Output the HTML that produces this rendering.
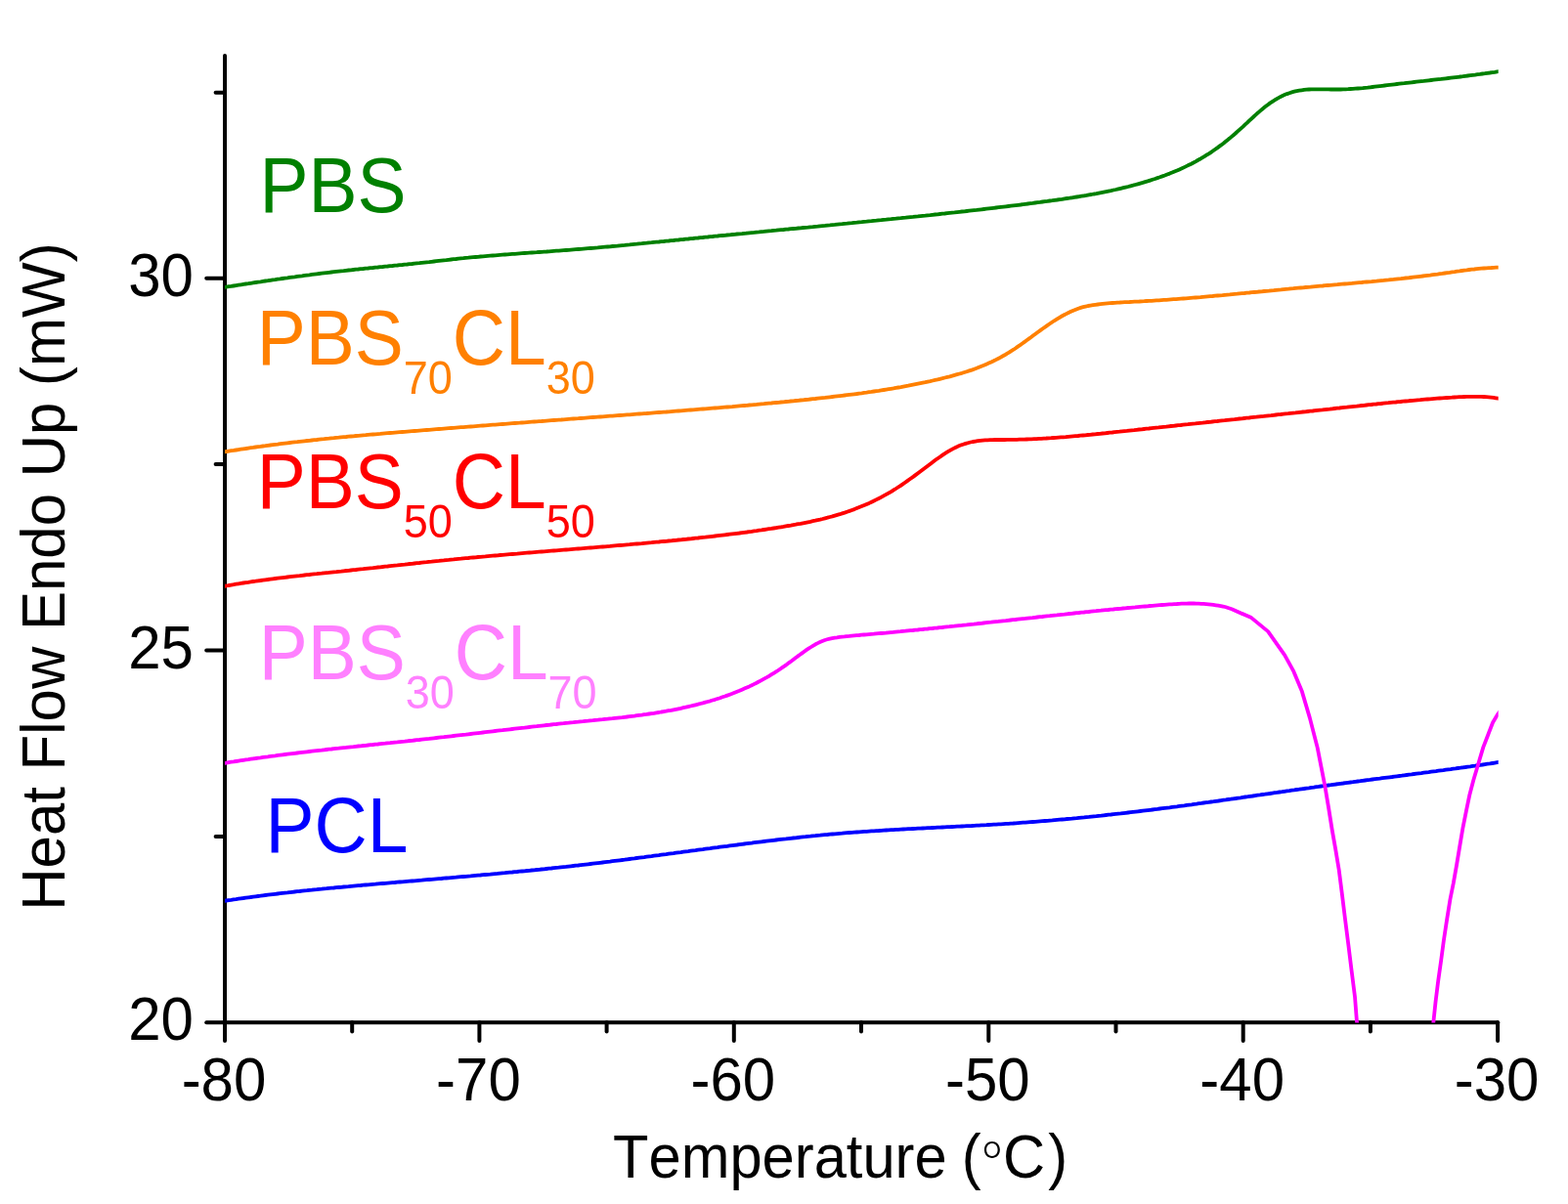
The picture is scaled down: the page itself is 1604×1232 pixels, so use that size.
<!DOCTYPE html>
<html><head><meta charset="utf-8"><title>DSC heat flow</title>
<style>
html,body{margin:0;padding:0;background:#fff;}
svg{display:block;}
text{font-family:"Liberation Sans",Arial,sans-serif;font-kerning:none;}
</style></head><body>
<svg width="1604" height="1232" viewBox="0 0 1604 1232">
<defs><clipPath id="plot"><rect x="230" y="40" width="1302.7" height="1006.6"/></clipPath></defs>
<rect width="1604" height="1232" fill="#fff"/>
<g stroke="#000" stroke-width="4" stroke-linecap="round" fill="none">
<line x1="230.0" y1="57.0" x2="230.0" y2="1046.2"/>
<line x1="230.0" y1="1046.2" x2="1532.1" y2="1046.2"/>
<line x1="230.0" y1="1046.2" x2="230.0" y2="1065.0"/>
<line x1="360.2" y1="1046.2" x2="360.2" y2="1055.6"/>
<line x1="490.4" y1="1046.2" x2="490.4" y2="1065.0"/>
<line x1="620.6" y1="1046.2" x2="620.6" y2="1055.6"/>
<line x1="750.8" y1="1046.2" x2="750.8" y2="1065.0"/>
<line x1="881.0" y1="1046.2" x2="881.0" y2="1055.6"/>
<line x1="1011.3" y1="1046.2" x2="1011.3" y2="1065.0"/>
<line x1="1141.5" y1="1046.2" x2="1141.5" y2="1055.6"/>
<line x1="1271.7" y1="1046.2" x2="1271.7" y2="1065.0"/>
<line x1="1401.9" y1="1046.2" x2="1401.9" y2="1055.6"/>
<line x1="1532.1" y1="1046.2" x2="1532.1" y2="1065.0"/>
<line x1="230.0" y1="1046.2" x2="211.2" y2="1046.2"/>
<line x1="230.0" y1="855.9" x2="220.6" y2="855.9"/>
<line x1="230.0" y1="665.5" x2="211.2" y2="665.5"/>
<line x1="230.0" y1="475.1" x2="220.6" y2="475.1"/>
<line x1="230.0" y1="284.8" x2="211.2" y2="284.8"/>
<line x1="230.0" y1="94.8" x2="220.6" y2="94.8"/>
</g>
<g clip-path="url(#plot)" fill="none" stroke-width="3.8" stroke-linejoin="round">
<path d="M229.0,921.9 L231.5,921.5 L234.0,921.1 L236.5,920.8 L239.0,920.4 L241.5,920.1 L244.0,919.7 L246.5,919.3 L249.0,919.0 L251.5,918.6 L254.0,918.3 L256.5,918.0 L259.0,917.6 L261.5,917.3 L264.0,917.0 L266.5,916.7 L269.0,916.3 L271.5,916.0 L274.0,915.7 L276.5,915.4 L279.0,915.1 L281.5,914.8 L284.0,914.5 L286.5,914.2 L289.0,913.9 L291.5,913.6 L294.0,913.4 L296.5,913.1 L299.0,912.8 L301.5,912.5 L304.0,912.2 L306.5,912.0 L309.0,911.7 L311.5,911.4 L314.0,911.2 L316.5,910.9 L319.0,910.7 L321.5,910.4 L324.0,910.2 L326.5,909.9 L329.0,909.7 L331.5,909.4 L334.0,909.2 L336.5,908.9 L339.0,908.7 L341.5,908.5 L344.0,908.2 L346.5,908.0 L349.0,907.8 L351.5,907.5 L354.0,907.3 L356.5,907.1 L359.0,906.8 L361.5,906.6 L364.0,906.4 L366.5,906.2 L369.0,906.0 L371.5,905.7 L374.0,905.5 L376.5,905.3 L379.0,905.1 L381.5,904.9 L384.0,904.7 L386.5,904.4 L389.0,904.2 L391.5,904.0 L394.0,903.8 L396.5,903.6 L399.0,903.4 L401.5,903.2 L404.0,903.0 L406.5,902.7 L409.0,902.5 L411.5,902.3 L414.0,902.1 L416.5,901.9 L419.0,901.7 L421.5,901.5 L424.0,901.3 L426.5,901.1 L429.0,900.9 L431.5,900.7 L434.0,900.4 L436.5,900.2 L439.0,900.0 L441.5,899.8 L444.0,899.6 L446.5,899.4 L449.0,899.2 L451.5,899.0 L454.0,898.7 L456.5,898.5 L459.0,898.3 L461.5,898.1 L464.0,897.9 L466.5,897.7 L469.0,897.4 L471.5,897.2 L474.0,897.0 L476.5,896.8 L479.0,896.6 L481.5,896.4 L484.0,896.1 L486.5,895.9 L489.0,895.7 L491.5,895.5 L494.0,895.2 L496.5,895.0 L499.0,894.8 L501.5,894.6 L504.0,894.3 L506.5,894.1 L509.0,893.9 L511.5,893.6 L514.0,893.4 L516.5,893.2 L519.0,892.9 L521.5,892.7 L524.0,892.5 L526.5,892.2 L529.0,892.0 L531.5,891.7 L534.0,891.5 L536.5,891.3 L539.0,891.0 L541.5,890.8 L544.0,890.5 L546.5,890.3 L549.0,890.0 L551.5,889.8 L554.0,889.5 L556.5,889.3 L559.0,889.0 L561.5,888.7 L564.0,888.5 L566.5,888.2 L569.0,887.9 L571.5,887.7 L574.0,887.4 L576.5,887.1 L579.0,886.9 L581.5,886.6 L584.0,886.3 L586.5,886.0 L589.0,885.7 L591.5,885.5 L594.0,885.2 L596.5,884.9 L599.0,884.6 L601.5,884.3 L604.0,884.0 L606.5,883.7 L609.0,883.4 L611.5,883.1 L614.0,882.8 L616.5,882.5 L619.0,882.2 L621.5,881.9 L624.0,881.6 L626.5,881.2 L629.0,880.9 L631.5,880.6 L634.0,880.3 L636.5,880.0 L639.0,879.7 L641.5,879.3 L644.0,879.0 L646.5,878.7 L649.0,878.4 L651.5,878.0 L654.0,877.7 L656.5,877.4 L659.0,877.1 L661.5,876.7 L664.0,876.4 L666.5,876.1 L669.0,875.7 L671.5,875.4 L674.0,875.1 L676.5,874.7 L679.0,874.4 L681.5,874.1 L684.0,873.7 L686.5,873.4 L689.0,873.1 L691.5,872.7 L694.0,872.4 L696.5,872.1 L699.0,871.7 L701.5,871.4 L704.0,871.1 L706.5,870.7 L709.0,870.4 L711.5,870.1 L714.0,869.7 L716.5,869.4 L719.0,869.1 L721.5,868.7 L724.0,868.4 L726.5,868.1 L729.0,867.7 L731.5,867.4 L734.0,867.1 L736.5,866.7 L739.0,866.4 L741.5,866.1 L744.0,865.8 L746.5,865.4 L749.0,865.1 L751.5,864.8 L754.0,864.5 L756.5,864.1 L759.0,863.8 L761.5,863.5 L764.0,863.2 L766.5,862.9 L769.0,862.6 L771.5,862.2 L774.0,861.9 L776.5,861.6 L779.0,861.3 L781.5,861.0 L784.0,860.7 L786.5,860.4 L789.0,860.1 L791.5,859.8 L794.0,859.5 L796.5,859.2 L799.0,858.9 L801.5,858.6 L804.0,858.4 L806.5,858.1 L809.0,857.8 L811.5,857.5 L814.0,857.3 L816.5,857.0 L819.0,856.7 L821.5,856.4 L824.0,856.2 L826.5,855.9 L829.0,855.7 L831.5,855.4 L834.0,855.2 L836.5,854.9 L839.0,854.7 L841.5,854.4 L844.0,854.2 L846.5,854.0 L849.0,853.7 L851.5,853.5 L854.0,853.3 L856.5,853.1 L859.0,852.9 L861.5,852.7 L864.0,852.4 L866.5,852.2 L869.0,852.0 L871.5,851.9 L874.0,851.7 L876.5,851.5 L879.0,851.3 L881.5,851.1 L884.0,850.9 L886.5,850.8 L889.0,850.6 L891.5,850.4 L894.0,850.3 L896.5,850.1 L899.0,850.0 L901.5,849.8 L904.0,849.6 L906.5,849.5 L909.0,849.4 L911.5,849.2 L914.0,849.1 L916.5,848.9 L919.0,848.8 L921.5,848.6 L924.0,848.5 L926.5,848.4 L929.0,848.2 L931.5,848.1 L934.0,848.0 L936.5,847.9 L939.0,847.7 L941.5,847.6 L944.0,847.5 L946.5,847.4 L949.0,847.2 L951.5,847.1 L954.0,847.0 L956.5,846.9 L959.0,846.7 L961.5,846.6 L964.0,846.5 L966.5,846.4 L969.0,846.2 L971.5,846.1 L974.0,846.0 L976.5,845.9 L979.0,845.7 L981.5,845.6 L984.0,845.5 L986.5,845.4 L989.0,845.2 L991.5,845.1 L994.0,845.0 L996.5,844.8 L999.0,844.7 L1001.5,844.6 L1004.0,844.4 L1006.5,844.3 L1009.0,844.2 L1011.5,844.0 L1014.0,843.9 L1016.5,843.7 L1019.0,843.6 L1021.5,843.4 L1024.0,843.3 L1026.5,843.1 L1029.0,842.9 L1031.5,842.8 L1034.0,842.6 L1036.5,842.5 L1039.0,842.3 L1041.5,842.1 L1044.0,841.9 L1046.5,841.7 L1049.0,841.6 L1051.5,841.4 L1054.0,841.2 L1056.5,841.0 L1059.0,840.8 L1061.5,840.6 L1064.0,840.4 L1066.5,840.2 L1069.0,840.0 L1071.5,839.8 L1074.0,839.6 L1076.5,839.4 L1079.0,839.1 L1081.5,838.9 L1084.0,838.7 L1086.5,838.5 L1089.0,838.3 L1091.5,838.0 L1094.0,837.8 L1096.5,837.6 L1099.0,837.3 L1101.5,837.1 L1104.0,836.8 L1106.5,836.6 L1109.0,836.4 L1111.5,836.1 L1114.0,835.9 L1116.5,835.6 L1119.0,835.3 L1121.5,835.1 L1124.0,834.8 L1126.5,834.6 L1129.0,834.3 L1131.5,834.0 L1134.0,833.7 L1136.5,833.5 L1139.0,833.2 L1141.5,832.9 L1144.0,832.6 L1146.5,832.4 L1149.0,832.1 L1151.5,831.8 L1154.0,831.5 L1156.5,831.2 L1159.0,830.9 L1161.5,830.6 L1164.0,830.3 L1166.5,830.0 L1169.0,829.7 L1171.5,829.4 L1174.0,829.1 L1176.5,828.8 L1179.0,828.5 L1181.5,828.2 L1184.0,827.9 L1186.5,827.5 L1189.0,827.2 L1191.5,826.9 L1194.0,826.6 L1196.5,826.3 L1199.0,825.9 L1201.5,825.6 L1204.0,825.3 L1206.5,824.9 L1209.0,824.6 L1211.5,824.3 L1214.0,823.9 L1216.5,823.6 L1219.0,823.3 L1221.5,822.9 L1224.0,822.6 L1226.5,822.2 L1229.0,821.9 L1231.5,821.5 L1234.0,821.2 L1236.5,820.9 L1239.0,820.5 L1241.5,820.2 L1244.0,819.8 L1246.5,819.5 L1249.0,819.1 L1251.5,818.7 L1254.0,818.4 L1256.5,818.0 L1259.0,817.7 L1261.5,817.3 L1264.0,817.0 L1266.5,816.6 L1269.0,816.3 L1271.5,815.9 L1274.0,815.5 L1276.5,815.2 L1279.0,814.8 L1281.5,814.5 L1284.0,814.1 L1286.5,813.7 L1289.0,813.4 L1291.5,813.0 L1294.0,812.7 L1296.5,812.3 L1299.0,812.0 L1301.5,811.6 L1304.0,811.2 L1306.5,810.9 L1309.0,810.5 L1311.5,810.2 L1314.0,809.8 L1316.5,809.4 L1319.0,809.1 L1321.5,808.7 L1324.0,808.4 L1326.5,808.0 L1329.0,807.7 L1331.5,807.3 L1334.0,807.0 L1336.5,806.6 L1339.0,806.3 L1341.5,805.9 L1344.0,805.6 L1346.5,805.2 L1349.0,804.9 L1351.5,804.5 L1354.0,804.2 L1356.5,803.8 L1359.0,803.5 L1361.5,803.2 L1364.0,802.8 L1366.5,802.5 L1369.0,802.1 L1371.5,801.8 L1374.0,801.5 L1376.5,801.1 L1379.0,800.8 L1381.5,800.5 L1384.0,800.2 L1386.5,799.8 L1389.0,799.5 L1391.5,799.2 L1394.0,798.8 L1396.5,798.5 L1399.0,798.2 L1401.5,797.9 L1404.0,797.5 L1406.5,797.2 L1409.0,796.9 L1411.5,796.6 L1414.0,796.2 L1416.5,795.9 L1419.0,795.6 L1421.5,795.3 L1424.0,795.0 L1426.5,794.6 L1429.0,794.3 L1431.5,794.0 L1434.0,793.7 L1436.5,793.3 L1439.0,793.0 L1441.5,792.7 L1444.0,792.4 L1446.5,792.0 L1449.0,791.7 L1451.5,791.4 L1454.0,791.1 L1456.5,790.7 L1459.0,790.4 L1461.5,790.1 L1464.0,789.7 L1466.5,789.4 L1469.0,789.1 L1471.5,788.7 L1474.0,788.4 L1476.5,788.1 L1479.0,787.7 L1481.5,787.4 L1484.0,787.1 L1486.5,786.7 L1489.0,786.4 L1491.5,786.0 L1494.0,785.7 L1496.5,785.3 L1499.0,785.0 L1501.5,784.6 L1504.0,784.3 L1506.5,783.9 L1509.0,783.6 L1511.5,783.2 L1514.0,782.8 L1516.5,782.5 L1519.0,782.1 L1521.5,781.7 L1524.0,781.4 L1526.5,781.0 L1529.0,780.6 L1531.5,780.2 L1534.0,779.9" stroke="#0000FF"/>
<path d="M229.0,294.0 L231.5,293.6 L234.0,293.2 L236.5,292.9 L239.0,292.5 L241.5,292.1 L244.0,291.7 L246.5,291.3 L249.0,290.9 L251.5,290.5 L254.0,290.2 L256.5,289.8 L259.0,289.4 L261.5,289.0 L264.0,288.6 L266.5,288.3 L269.0,287.9 L271.5,287.5 L274.0,287.2 L276.5,286.8 L279.0,286.4 L281.5,286.1 L284.0,285.7 L286.5,285.4 L289.0,285.0 L291.5,284.6 L294.0,284.3 L296.5,283.9 L299.0,283.6 L301.5,283.3 L304.0,282.9 L306.5,282.6 L309.0,282.3 L311.5,281.9 L314.0,281.6 L316.5,281.3 L319.0,280.9 L321.5,280.6 L324.0,280.3 L326.5,280.0 L329.0,279.7 L331.5,279.4 L334.0,279.1 L336.5,278.8 L339.0,278.5 L341.5,278.2 L344.0,277.9 L346.5,277.6 L349.0,277.3 L351.5,277.1 L354.0,276.8 L356.5,276.5 L359.0,276.3 L361.5,276.0 L364.0,275.7 L366.5,275.5 L369.0,275.2 L371.5,275.0 L374.0,274.7 L376.5,274.5 L379.0,274.2 L381.5,274.0 L384.0,273.7 L386.5,273.5 L389.0,273.2 L391.5,273.0 L394.0,272.7 L396.5,272.5 L399.0,272.2 L401.5,272.0 L404.0,271.7 L406.5,271.5 L409.0,271.2 L411.5,271.0 L414.0,270.7 L416.5,270.5 L419.0,270.2 L421.5,270.0 L424.0,269.7 L426.5,269.4 L429.0,269.2 L431.5,268.9 L434.0,268.6 L436.5,268.3 L439.0,268.1 L441.5,267.8 L444.0,267.5 L446.5,267.2 L449.0,266.9 L451.5,266.6 L454.0,266.3 L456.5,266.1 L459.0,265.8 L461.5,265.5 L464.0,265.2 L466.5,265.0 L469.0,264.7 L471.5,264.4 L474.0,264.2 L476.5,263.9 L479.0,263.7 L481.5,263.4 L484.0,263.2 L486.5,263.0 L489.0,262.8 L491.5,262.5 L494.0,262.3 L496.5,262.1 L499.0,261.9 L501.5,261.7 L504.0,261.5 L506.5,261.3 L509.0,261.1 L511.5,260.9 L514.0,260.7 L516.5,260.5 L519.0,260.3 L521.5,260.1 L524.0,259.9 L526.5,259.8 L529.0,259.6 L531.5,259.4 L534.0,259.2 L536.5,259.0 L539.0,258.9 L541.5,258.7 L544.0,258.5 L546.5,258.3 L549.0,258.2 L551.5,258.0 L554.0,257.8 L556.5,257.6 L559.0,257.5 L561.5,257.3 L564.0,257.1 L566.5,256.9 L569.0,256.7 L571.5,256.6 L574.0,256.4 L576.5,256.2 L579.0,256.0 L581.5,255.8 L584.0,255.6 L586.5,255.4 L589.0,255.2 L591.5,255.0 L594.0,254.8 L596.5,254.6 L599.0,254.4 L601.5,254.2 L604.0,254.0 L606.5,253.8 L609.0,253.6 L611.5,253.4 L614.0,253.1 L616.5,252.9 L619.0,252.7 L621.5,252.5 L624.0,252.3 L626.5,252.0 L629.0,251.8 L631.5,251.6 L634.0,251.3 L636.5,251.1 L639.0,250.9 L641.5,250.6 L644.0,250.4 L646.5,250.1 L649.0,249.9 L651.5,249.7 L654.0,249.4 L656.5,249.2 L659.0,248.9 L661.5,248.7 L664.0,248.4 L666.5,248.2 L669.0,247.9 L671.5,247.7 L674.0,247.5 L676.5,247.2 L679.0,247.0 L681.5,246.7 L684.0,246.5 L686.5,246.2 L689.0,246.0 L691.5,245.7 L694.0,245.5 L696.5,245.2 L699.0,245.0 L701.5,244.7 L704.0,244.5 L706.5,244.2 L709.0,244.0 L711.5,243.7 L714.0,243.5 L716.5,243.2 L719.0,243.0 L721.5,242.7 L724.0,242.5 L726.5,242.2 L729.0,242.0 L731.5,241.7 L734.0,241.5 L736.5,241.2 L739.0,241.0 L741.5,240.8 L744.0,240.5 L746.5,240.3 L749.0,240.0 L751.5,239.8 L754.0,239.5 L756.5,239.3 L759.0,239.1 L761.5,238.8 L764.0,238.6 L766.5,238.3 L769.0,238.1 L771.5,237.9 L774.0,237.6 L776.5,237.4 L779.0,237.1 L781.5,236.9 L784.0,236.6 L786.5,236.4 L789.0,236.2 L791.5,235.9 L794.0,235.7 L796.5,235.4 L799.0,235.2 L801.5,235.0 L804.0,234.7 L806.5,234.5 L809.0,234.2 L811.5,234.0 L814.0,233.8 L816.5,233.5 L819.0,233.3 L821.5,233.0 L824.0,232.8 L826.5,232.6 L829.0,232.3 L831.5,232.1 L834.0,231.8 L836.5,231.6 L839.0,231.3 L841.5,231.1 L844.0,230.9 L846.5,230.6 L849.0,230.4 L851.5,230.1 L854.0,229.9 L856.5,229.6 L859.0,229.4 L861.5,229.2 L864.0,228.9 L866.5,228.7 L869.0,228.4 L871.5,228.2 L874.0,227.9 L876.5,227.7 L879.0,227.4 L881.5,227.2 L884.0,226.9 L886.5,226.7 L889.0,226.4 L891.5,226.2 L894.0,225.9 L896.5,225.7 L899.0,225.4 L901.5,225.2 L904.0,224.9 L906.5,224.7 L909.0,224.4 L911.5,224.2 L914.0,223.9 L916.5,223.7 L919.0,223.4 L921.5,223.2 L924.0,222.9 L926.5,222.7 L929.0,222.4 L931.5,222.1 L934.0,221.9 L936.5,221.6 L939.0,221.4 L941.5,221.1 L944.0,220.8 L946.5,220.6 L949.0,220.3 L951.5,220.1 L954.0,219.8 L956.5,219.5 L959.0,219.3 L961.5,219.0 L964.0,218.7 L966.5,218.5 L969.0,218.2 L971.5,217.9 L974.0,217.6 L976.5,217.4 L979.0,217.1 L981.5,216.8 L984.0,216.5 L986.5,216.3 L989.0,216.0 L991.5,215.7 L994.0,215.4 L996.5,215.1 L999.0,214.9 L1001.5,214.6 L1004.0,214.3 L1006.5,214.0 L1009.0,213.7 L1011.5,213.4 L1014.0,213.1 L1016.5,212.8 L1019.0,212.5 L1021.5,212.2 L1024.0,211.9 L1026.5,211.6 L1029.0,211.3 L1031.5,211.0 L1034.0,210.7 L1036.5,210.4 L1039.0,210.1 L1041.5,209.8 L1044.0,209.5 L1046.5,209.1 L1049.0,208.8 L1051.5,208.5 L1054.0,208.2 L1056.5,207.9 L1059.0,207.5 L1061.5,207.2 L1064.0,206.9 L1066.5,206.5 L1069.0,206.2 L1071.5,205.9 L1074.0,205.5 L1076.5,205.2 L1079.0,204.8 L1081.5,204.5 L1084.0,204.1 L1086.5,203.8 L1089.0,203.4 L1091.5,203.0 L1094.0,202.7 L1096.5,202.3 L1099.0,201.9 L1101.5,201.5 L1104.0,201.1 L1106.5,200.7 L1109.0,200.3 L1111.5,199.9 L1114.0,199.4 L1116.5,199.0 L1119.0,198.5 L1121.5,198.1 L1124.0,197.6 L1126.5,197.1 L1129.0,196.6 L1131.5,196.1 L1134.0,195.6 L1136.5,195.1 L1139.0,194.5 L1141.5,194.0 L1144.0,193.4 L1146.5,192.8 L1149.0,192.2 L1151.5,191.6 L1154.0,191.0 L1156.5,190.3 L1159.0,189.7 L1161.5,189.0 L1164.0,188.3 L1166.5,187.6 L1169.0,186.9 L1171.5,186.1 L1174.0,185.4 L1176.5,184.6 L1179.0,183.8 L1181.5,183.0 L1184.0,182.1 L1186.5,181.3 L1189.0,180.4 L1191.5,179.5 L1194.0,178.5 L1196.5,177.6 L1199.0,176.6 L1201.5,175.5 L1204.0,174.5 L1206.5,173.4 L1209.0,172.3 L1211.5,171.1 L1214.0,169.9 L1216.2,168.8 L1218.5,167.7 L1220.8,166.5 L1223.0,165.3 L1225.2,164.0 L1227.5,162.8 L1229.8,161.4 L1232.0,160.1 L1234.2,158.7 L1236.5,157.3 L1238.8,155.8 L1241.0,154.3 L1243.2,152.7 L1245.5,151.1 L1247.8,149.4 L1249.8,147.9 L1251.8,146.4 L1253.8,144.8 L1255.8,143.2 L1257.8,141.6 L1259.8,139.9 L1261.8,138.2 L1263.8,136.5 L1265.8,134.7 L1267.8,132.9 L1269.8,131.1 L1271.8,129.3 L1273.8,127.4 L1275.8,125.6 L1277.8,123.7 L1279.8,121.8 L1281.8,120.0 L1283.8,118.1 L1285.8,116.3 L1287.8,114.6 L1289.8,112.9 L1291.8,111.2 L1293.8,109.6 L1295.8,108.1 L1298.0,106.4 L1300.2,104.8 L1302.5,103.3 L1304.8,101.9 L1307.0,100.6 L1309.2,99.4 L1311.5,98.2 L1314.0,97.1 L1316.5,96.1 L1319.0,95.2 L1321.5,94.4 L1324.0,93.7 L1326.5,93.1 L1329.0,92.7 L1331.5,92.3 L1334.0,91.9 L1336.5,91.7 L1339.0,91.5 L1341.5,91.4 L1344.0,91.3 L1346.5,91.3 L1349.0,91.3 L1351.5,91.3 L1354.0,91.3 L1356.5,91.4 L1359.0,91.4 L1361.5,91.5 L1364.0,91.5 L1366.5,91.5 L1369.0,91.5 L1371.5,91.5 L1374.0,91.4 L1376.5,91.3 L1379.0,91.2 L1381.5,91.0 L1384.0,90.9 L1386.5,90.7 L1389.0,90.5 L1391.5,90.3 L1394.0,90.1 L1396.5,89.8 L1399.0,89.6 L1401.5,89.3 L1404.0,89.0 L1406.5,88.7 L1409.0,88.4 L1411.5,88.1 L1414.0,87.8 L1416.5,87.5 L1419.0,87.2 L1421.5,86.9 L1424.0,86.6 L1426.5,86.3 L1429.0,86.0 L1431.5,85.7 L1434.0,85.4 L1436.5,85.2 L1439.0,84.9 L1441.5,84.6 L1444.0,84.3 L1446.5,84.0 L1449.0,83.7 L1451.5,83.4 L1454.0,83.1 L1456.5,82.9 L1459.0,82.6 L1461.5,82.3 L1464.0,82.0 L1466.5,81.7 L1469.0,81.4 L1471.5,81.1 L1474.0,80.9 L1476.5,80.6 L1479.0,80.3 L1481.5,80.0 L1484.0,79.7 L1486.5,79.4 L1489.0,79.1 L1491.5,78.8 L1494.0,78.5 L1496.5,78.2 L1499.0,77.8 L1501.5,77.5 L1504.0,77.2 L1506.5,76.9 L1509.0,76.6 L1511.5,76.2 L1514.0,75.9 L1516.5,75.5 L1519.0,75.2 L1521.5,74.8 L1524.0,74.5 L1526.5,74.1 L1529.0,73.8 L1531.5,73.4 L1534.0,73.0" stroke="#008000"/>
<path d="M229.0,462.5 L231.5,462.0 L234.0,461.6 L236.5,461.2 L239.0,460.9 L241.5,460.5 L244.0,460.1 L246.5,459.7 L249.0,459.3 L251.5,459.0 L254.0,458.6 L256.5,458.2 L259.0,457.9 L261.5,457.5 L264.0,457.2 L266.5,456.9 L269.0,456.5 L271.5,456.2 L274.0,455.8 L276.5,455.5 L279.0,455.2 L281.5,454.9 L284.0,454.6 L286.5,454.2 L289.0,453.9 L291.5,453.6 L294.0,453.3 L296.5,453.0 L299.0,452.7 L301.5,452.4 L304.0,452.2 L306.5,451.9 L309.0,451.6 L311.5,451.3 L314.0,451.0 L316.5,450.8 L319.0,450.5 L321.5,450.2 L324.0,450.0 L326.5,449.7 L329.0,449.4 L331.5,449.2 L334.0,448.9 L336.5,448.7 L339.0,448.4 L341.5,448.2 L344.0,447.9 L346.5,447.7 L349.0,447.4 L351.5,447.2 L354.0,447.0 L356.5,446.7 L359.0,446.5 L361.5,446.3 L364.0,446.0 L366.5,445.8 L369.0,445.6 L371.5,445.4 L374.0,445.2 L376.5,444.9 L379.0,444.7 L381.5,444.5 L384.0,444.3 L386.5,444.1 L389.0,443.9 L391.5,443.6 L394.0,443.4 L396.5,443.2 L399.0,443.0 L401.5,442.8 L404.0,442.6 L406.5,442.4 L409.0,442.2 L411.5,442.0 L414.0,441.8 L416.5,441.6 L419.0,441.4 L421.5,441.2 L424.0,441.0 L426.5,440.8 L429.0,440.6 L431.5,440.4 L434.0,440.2 L436.5,440.0 L439.0,439.8 L441.5,439.6 L444.0,439.4 L446.5,439.2 L449.0,439.0 L451.5,438.8 L454.0,438.6 L456.5,438.4 L459.0,438.2 L461.5,438.0 L464.0,437.8 L466.5,437.6 L469.0,437.4 L471.5,437.2 L474.0,437.1 L476.5,436.9 L479.0,436.7 L481.5,436.5 L484.0,436.3 L486.5,436.1 L489.0,435.9 L491.5,435.7 L494.0,435.5 L496.5,435.3 L499.0,435.1 L501.5,434.9 L504.0,434.7 L506.5,434.6 L509.0,434.4 L511.5,434.2 L514.0,434.0 L516.5,433.8 L519.0,433.6 L521.5,433.4 L524.0,433.2 L526.5,433.0 L529.0,432.8 L531.5,432.7 L534.0,432.5 L536.5,432.3 L539.0,432.1 L541.5,431.9 L544.0,431.7 L546.5,431.5 L549.0,431.3 L551.5,431.1 L554.0,431.0 L556.5,430.8 L559.0,430.6 L561.5,430.4 L564.0,430.2 L566.5,430.0 L569.0,429.8 L571.5,429.6 L574.0,429.5 L576.5,429.3 L579.0,429.1 L581.5,428.9 L584.0,428.7 L586.5,428.5 L589.0,428.3 L591.5,428.2 L594.0,428.0 L596.5,427.8 L599.0,427.6 L601.5,427.4 L604.0,427.2 L606.5,427.0 L609.0,426.9 L611.5,426.7 L614.0,426.5 L616.5,426.3 L619.0,426.1 L621.5,425.9 L624.0,425.7 L626.5,425.6 L629.0,425.4 L631.5,425.2 L634.0,425.0 L636.5,424.8 L639.0,424.6 L641.5,424.4 L644.0,424.3 L646.5,424.1 L649.0,423.9 L651.5,423.7 L654.0,423.5 L656.5,423.3 L659.0,423.1 L661.5,423.0 L664.0,422.8 L666.5,422.6 L669.0,422.4 L671.5,422.2 L674.0,422.0 L676.5,421.8 L679.0,421.6 L681.5,421.5 L684.0,421.3 L686.5,421.1 L689.0,420.9 L691.5,420.7 L694.0,420.5 L696.5,420.3 L699.0,420.1 L701.5,419.9 L704.0,419.7 L706.5,419.5 L709.0,419.3 L711.5,419.1 L714.0,418.9 L716.5,418.7 L719.0,418.5 L721.5,418.3 L724.0,418.1 L726.5,417.9 L729.0,417.7 L731.5,417.5 L734.0,417.3 L736.5,417.1 L739.0,416.9 L741.5,416.7 L744.0,416.5 L746.5,416.3 L749.0,416.1 L751.5,415.8 L754.0,415.6 L756.5,415.4 L759.0,415.2 L761.5,415.0 L764.0,414.8 L766.5,414.5 L769.0,414.3 L771.5,414.1 L774.0,413.9 L776.5,413.6 L779.0,413.4 L781.5,413.2 L784.0,412.9 L786.5,412.7 L789.0,412.5 L791.5,412.2 L794.0,412.0 L796.5,411.8 L799.0,411.5 L801.5,411.3 L804.0,411.0 L806.5,410.8 L809.0,410.5 L811.5,410.3 L814.0,410.0 L816.5,409.8 L819.0,409.5 L821.5,409.3 L824.0,409.0 L826.5,408.8 L829.0,408.5 L831.5,408.2 L834.0,408.0 L836.5,407.7 L839.0,407.4 L841.5,407.1 L844.0,406.9 L846.5,406.6 L849.0,406.3 L851.5,406.0 L854.0,405.7 L856.5,405.4 L859.0,405.1 L861.5,404.8 L864.0,404.5 L866.5,404.2 L869.0,403.9 L871.5,403.6 L874.0,403.3 L876.5,403.0 L879.0,402.6 L881.5,402.3 L884.0,401.9 L886.5,401.6 L889.0,401.2 L891.5,400.9 L894.0,400.5 L896.5,400.1 L899.0,399.8 L901.5,399.4 L904.0,399.0 L906.5,398.6 L909.0,398.2 L911.5,397.8 L914.0,397.4 L916.5,396.9 L919.0,396.5 L921.5,396.1 L924.0,395.6 L926.5,395.1 L929.0,394.7 L931.5,394.2 L934.0,393.7 L936.5,393.2 L939.0,392.7 L941.5,392.2 L944.0,391.7 L946.5,391.2 L949.0,390.6 L951.5,390.1 L954.0,389.5 L956.5,388.9 L959.0,388.4 L961.5,387.8 L964.0,387.2 L966.5,386.5 L969.0,385.9 L971.5,385.3 L974.0,384.6 L976.5,383.9 L979.0,383.2 L981.5,382.5 L984.0,381.8 L986.5,381.0 L989.0,380.2 L991.5,379.4 L994.0,378.6 L996.5,377.7 L999.0,376.8 L1001.5,375.8 L1004.0,374.8 L1006.5,373.8 L1009.0,372.7 L1011.5,371.6 L1014.0,370.5 L1016.5,369.3 L1018.8,368.1 L1021.0,367.0 L1023.2,365.8 L1025.5,364.5 L1027.8,363.3 L1030.0,361.9 L1032.2,360.6 L1034.5,359.1 L1036.8,357.7 L1039.0,356.2 L1041.2,354.6 L1043.5,353.1 L1045.8,351.5 L1048.0,349.9 L1050.2,348.2 L1052.5,346.6 L1054.8,345.0 L1057.0,343.3 L1059.2,341.7 L1061.5,340.0 L1063.8,338.4 L1066.0,336.8 L1068.2,335.2 L1070.5,333.6 L1072.8,332.0 L1075.0,330.5 L1077.2,329.0 L1079.5,327.6 L1081.8,326.2 L1084.0,324.8 L1086.2,323.5 L1088.5,322.3 L1090.8,321.1 L1093.0,320.0 L1095.5,318.8 L1098.0,317.7 L1100.5,316.7 L1103.0,315.7 L1105.5,314.9 L1108.0,314.2 L1110.5,313.6 L1113.0,313.0 L1115.5,312.6 L1118.0,312.2 L1120.5,311.8 L1123.0,311.5 L1125.5,311.2 L1128.0,310.9 L1130.5,310.6 L1133.0,310.4 L1135.5,310.2 L1138.0,310.0 L1140.5,309.8 L1143.0,309.6 L1145.5,309.5 L1148.0,309.3 L1150.5,309.2 L1153.0,309.1 L1155.5,309.0 L1158.0,308.8 L1160.5,308.7 L1163.0,308.6 L1165.5,308.5 L1168.0,308.3 L1170.5,308.2 L1173.0,308.0 L1175.5,307.9 L1178.0,307.8 L1180.5,307.6 L1183.0,307.4 L1185.5,307.3 L1188.0,307.1 L1190.5,306.9 L1193.0,306.8 L1195.5,306.6 L1198.0,306.4 L1200.5,306.2 L1203.0,306.1 L1205.5,305.9 L1208.0,305.7 L1210.5,305.5 L1213.0,305.3 L1215.5,305.1 L1218.0,304.9 L1220.5,304.7 L1223.0,304.5 L1225.5,304.3 L1228.0,304.1 L1230.5,303.8 L1233.0,303.6 L1235.5,303.4 L1238.0,303.2 L1240.5,303.0 L1243.0,302.7 L1245.5,302.5 L1248.0,302.3 L1250.5,302.1 L1253.0,301.8 L1255.5,301.6 L1258.0,301.4 L1260.5,301.1 L1263.0,300.9 L1265.5,300.7 L1268.0,300.4 L1270.5,300.2 L1273.0,300.0 L1275.5,299.7 L1278.0,299.5 L1280.5,299.2 L1283.0,299.0 L1285.5,298.8 L1288.0,298.5 L1290.5,298.3 L1293.0,298.0 L1295.5,297.8 L1298.0,297.6 L1300.5,297.3 L1303.0,297.1 L1305.5,296.8 L1308.0,296.6 L1310.5,296.4 L1313.0,296.1 L1315.5,295.9 L1318.0,295.7 L1320.5,295.4 L1323.0,295.2 L1325.5,294.9 L1328.0,294.7 L1330.5,294.5 L1333.0,294.3 L1335.5,294.0 L1338.0,293.8 L1340.5,293.6 L1343.0,293.3 L1345.5,293.1 L1348.0,292.9 L1350.5,292.7 L1353.0,292.5 L1355.5,292.2 L1358.0,292.0 L1360.5,291.8 L1363.0,291.6 L1365.5,291.4 L1368.0,291.2 L1370.5,290.9 L1373.0,290.7 L1375.5,290.5 L1378.0,290.3 L1380.5,290.1 L1383.0,289.9 L1385.5,289.6 L1388.0,289.4 L1390.5,289.2 L1393.0,289.0 L1395.5,288.7 L1398.0,288.5 L1400.5,288.3 L1403.0,288.1 L1405.5,287.8 L1408.0,287.6 L1410.5,287.3 L1413.0,287.1 L1415.5,286.9 L1418.0,286.6 L1420.5,286.4 L1423.0,286.1 L1425.5,285.9 L1428.0,285.6 L1430.5,285.3 L1433.0,285.1 L1435.5,284.8 L1438.0,284.5 L1440.5,284.3 L1443.0,284.0 L1445.5,283.7 L1448.0,283.4 L1450.5,283.1 L1453.0,282.8 L1455.5,282.5 L1458.0,282.2 L1460.5,281.9 L1463.0,281.6 L1465.5,281.2 L1468.0,280.9 L1470.5,280.6 L1473.0,280.2 L1475.5,279.9 L1478.0,279.5 L1480.5,279.1 L1483.0,278.8 L1485.5,278.4 L1488.0,278.1 L1490.5,277.7 L1493.0,277.4 L1495.5,277.0 L1498.0,276.7 L1500.5,276.4 L1503.0,276.0 L1505.5,275.7 L1508.0,275.5 L1510.5,275.2 L1513.0,274.9 L1515.5,274.7 L1518.0,274.5 L1520.5,274.3 L1523.0,274.1 L1525.5,274.0 L1528.0,273.8 L1530.5,273.7 L1533.0,273.7 L1534.0,273.6" stroke="#FF8000"/>
<path d="M229.0,599.9 L231.5,599.5 L234.0,599.0 L236.5,598.6 L239.0,598.2 L241.5,597.7 L244.0,597.3 L246.5,596.9 L249.0,596.5 L251.5,596.1 L254.0,595.8 L256.5,595.4 L259.0,595.0 L261.5,594.7 L264.0,594.3 L266.5,594.0 L269.0,593.6 L271.5,593.3 L274.0,593.0 L276.5,592.6 L279.0,592.3 L281.5,592.0 L284.0,591.7 L286.5,591.4 L289.0,591.1 L291.5,590.8 L294.0,590.5 L296.5,590.2 L299.0,589.9 L301.5,589.6 L304.0,589.3 L306.5,589.1 L309.0,588.8 L311.5,588.5 L314.0,588.2 L316.5,588.0 L319.0,587.7 L321.5,587.4 L324.0,587.2 L326.5,586.9 L329.0,586.7 L331.5,586.4 L334.0,586.1 L336.5,585.9 L339.0,585.6 L341.5,585.3 L344.0,585.1 L346.5,584.8 L349.0,584.6 L351.5,584.3 L354.0,584.0 L356.5,583.8 L359.0,583.5 L361.5,583.2 L364.0,583.0 L366.5,582.7 L369.0,582.4 L371.5,582.2 L374.0,581.9 L376.5,581.6 L379.0,581.3 L381.5,581.1 L384.0,580.8 L386.5,580.5 L389.0,580.3 L391.5,580.0 L394.0,579.7 L396.5,579.5 L399.0,579.2 L401.5,578.9 L404.0,578.6 L406.5,578.4 L409.0,578.1 L411.5,577.8 L414.0,577.6 L416.5,577.3 L419.0,577.0 L421.5,576.8 L424.0,576.5 L426.5,576.2 L429.0,576.0 L431.5,575.7 L434.0,575.4 L436.5,575.2 L439.0,574.9 L441.5,574.7 L444.0,574.4 L446.5,574.1 L449.0,573.9 L451.5,573.6 L454.0,573.4 L456.5,573.1 L459.0,572.9 L461.5,572.6 L464.0,572.4 L466.5,572.1 L469.0,571.9 L471.5,571.7 L474.0,571.4 L476.5,571.2 L479.0,571.0 L481.5,570.7 L484.0,570.5 L486.5,570.3 L489.0,570.0 L491.5,569.8 L494.0,569.6 L496.5,569.4 L499.0,569.1 L501.5,568.9 L504.0,568.7 L506.5,568.5 L509.0,568.3 L511.5,568.0 L514.0,567.8 L516.5,567.6 L519.0,567.4 L521.5,567.2 L524.0,567.0 L526.5,566.8 L529.0,566.6 L531.5,566.3 L534.0,566.1 L536.5,565.9 L539.0,565.7 L541.5,565.5 L544.0,565.3 L546.5,565.1 L549.0,564.9 L551.5,564.7 L554.0,564.5 L556.5,564.3 L559.0,564.1 L561.5,563.9 L564.0,563.7 L566.5,563.5 L569.0,563.3 L571.5,563.1 L574.0,562.9 L576.5,562.7 L579.0,562.5 L581.5,562.3 L584.0,562.1 L586.5,561.9 L589.0,561.7 L591.5,561.5 L594.0,561.3 L596.5,561.1 L599.0,560.9 L601.5,560.7 L604.0,560.5 L606.5,560.3 L609.0,560.1 L611.5,559.9 L614.0,559.7 L616.5,559.5 L619.0,559.3 L621.5,559.1 L624.0,558.9 L626.5,558.6 L629.0,558.4 L631.5,558.2 L634.0,558.0 L636.5,557.8 L639.0,557.6 L641.5,557.4 L644.0,557.2 L646.5,556.9 L649.0,556.7 L651.5,556.5 L654.0,556.3 L656.5,556.1 L659.0,555.8 L661.5,555.6 L664.0,555.4 L666.5,555.2 L669.0,554.9 L671.5,554.7 L674.0,554.5 L676.5,554.2 L679.0,554.0 L681.5,553.8 L684.0,553.5 L686.5,553.3 L689.0,553.0 L691.5,552.8 L694.0,552.5 L696.5,552.3 L699.0,552.0 L701.5,551.8 L704.0,551.5 L706.5,551.3 L709.0,551.0 L711.5,550.7 L714.0,550.5 L716.5,550.2 L719.0,549.9 L721.5,549.7 L724.0,549.4 L726.5,549.1 L729.0,548.8 L731.5,548.5 L734.0,548.2 L736.5,547.9 L739.0,547.6 L741.5,547.3 L744.0,547.0 L746.5,546.7 L749.0,546.4 L751.5,546.1 L754.0,545.8 L756.5,545.5 L759.0,545.1 L761.5,544.8 L764.0,544.5 L766.5,544.1 L769.0,543.8 L771.5,543.4 L774.0,543.1 L776.5,542.7 L779.0,542.4 L781.5,542.0 L784.0,541.6 L786.5,541.2 L789.0,540.9 L791.5,540.5 L794.0,540.1 L796.5,539.7 L799.0,539.3 L801.5,538.9 L804.0,538.4 L806.5,538.0 L809.0,537.6 L811.5,537.1 L814.0,536.7 L816.5,536.2 L819.0,535.8 L821.5,535.3 L824.0,534.8 L826.5,534.3 L829.0,533.8 L831.5,533.2 L834.0,532.7 L836.5,532.1 L839.0,531.6 L841.5,531.0 L844.0,530.3 L846.5,529.7 L849.0,529.0 L851.5,528.4 L854.0,527.6 L856.5,526.9 L859.0,526.2 L861.5,525.4 L864.0,524.6 L866.5,523.7 L869.0,522.9 L871.5,522.0 L874.0,521.1 L876.5,520.1 L879.0,519.1 L881.5,518.1 L884.0,517.1 L886.5,516.0 L889.0,514.9 L891.5,513.7 L894.0,512.5 L896.2,511.4 L898.5,510.3 L900.8,509.1 L903.0,507.9 L905.2,506.7 L907.5,505.4 L909.8,504.1 L912.0,502.8 L914.2,501.4 L916.5,500.0 L918.8,498.5 L921.0,497.1 L923.2,495.6 L925.5,494.0 L927.8,492.4 L930.0,490.8 L932.2,489.2 L934.5,487.6 L936.8,485.9 L939.0,484.2 L941.0,482.7 L943.0,481.2 L945.0,479.7 L947.0,478.2 L949.0,476.7 L951.0,475.2 L953.0,473.7 L955.2,472.0 L957.5,470.3 L959.8,468.7 L962.0,467.2 L964.2,465.6 L966.5,464.1 L968.8,462.7 L971.0,461.4 L973.2,460.1 L975.5,458.9 L977.8,457.8 L980.2,456.6 L982.8,455.6 L985.2,454.7 L987.8,453.9 L990.2,453.2 L992.8,452.5 L995.2,452.0 L997.8,451.6 L1000.2,451.2 L1002.8,450.9 L1005.2,450.6 L1007.8,450.4 L1010.2,450.3 L1012.8,450.1 L1015.2,450.1 L1017.8,450.0 L1020.2,450.0 L1022.8,450.0 L1025.2,450.0 L1027.8,450.0 L1030.2,449.9 L1032.8,449.9 L1035.2,449.9 L1037.8,449.9 L1040.2,449.8 L1042.8,449.7 L1045.2,449.7 L1047.8,449.6 L1050.2,449.5 L1052.8,449.4 L1055.2,449.3 L1057.8,449.2 L1060.2,449.1 L1062.8,448.9 L1065.2,448.8 L1067.8,448.6 L1070.2,448.5 L1072.8,448.3 L1075.2,448.2 L1077.8,448.0 L1080.2,447.8 L1082.8,447.6 L1085.2,447.4 L1087.8,447.3 L1090.2,447.1 L1092.8,446.8 L1095.2,446.6 L1097.8,446.4 L1100.2,446.2 L1102.8,446.0 L1105.2,445.7 L1107.8,445.5 L1110.2,445.3 L1112.8,445.0 L1115.2,444.8 L1117.8,444.5 L1120.2,444.3 L1122.8,444.0 L1125.2,443.8 L1127.8,443.5 L1130.2,443.3 L1132.8,443.0 L1135.2,442.7 L1137.8,442.5 L1140.2,442.2 L1142.8,441.9 L1145.2,441.7 L1147.8,441.4 L1150.2,441.1 L1152.8,440.9 L1155.2,440.6 L1157.8,440.3 L1160.2,440.1 L1162.8,439.8 L1165.2,439.5 L1167.8,439.3 L1170.2,439.0 L1172.8,438.7 L1175.2,438.5 L1177.8,438.2 L1180.2,437.9 L1182.8,437.6 L1185.2,437.4 L1187.8,437.1 L1190.2,436.8 L1192.8,436.6 L1195.2,436.3 L1197.8,436.0 L1200.2,435.8 L1202.8,435.5 L1205.2,435.2 L1207.8,435.0 L1210.2,434.7 L1212.8,434.4 L1215.2,434.2 L1217.8,433.9 L1220.2,433.6 L1222.8,433.4 L1225.2,433.1 L1227.8,432.8 L1230.2,432.6 L1232.8,432.3 L1235.2,432.0 L1237.8,431.8 L1240.2,431.5 L1242.8,431.2 L1245.2,431.0 L1247.8,430.7 L1250.2,430.4 L1252.8,430.2 L1255.2,429.9 L1257.8,429.6 L1260.2,429.3 L1262.8,429.1 L1265.2,428.8 L1267.8,428.5 L1270.2,428.3 L1272.8,428.0 L1275.2,427.7 L1277.8,427.5 L1280.2,427.2 L1282.8,426.9 L1285.2,426.7 L1287.8,426.4 L1290.2,426.1 L1292.8,425.9 L1295.2,425.6 L1297.8,425.3 L1300.2,425.1 L1302.8,424.8 L1305.2,424.5 L1307.8,424.2 L1310.2,424.0 L1312.8,423.7 L1315.2,423.4 L1317.8,423.2 L1320.2,422.9 L1322.8,422.6 L1325.2,422.4 L1327.8,422.1 L1330.2,421.8 L1332.8,421.5 L1335.2,421.3 L1337.8,421.0 L1340.2,420.7 L1342.8,420.5 L1345.2,420.2 L1347.8,419.9 L1350.2,419.6 L1352.8,419.4 L1355.2,419.1 L1357.8,418.8 L1360.2,418.6 L1362.8,418.3 L1365.2,418.0 L1367.8,417.7 L1370.2,417.5 L1372.8,417.2 L1375.2,416.9 L1377.8,416.7 L1380.2,416.4 L1382.8,416.1 L1385.2,415.8 L1387.8,415.6 L1390.2,415.3 L1392.8,415.0 L1395.2,414.8 L1397.8,414.5 L1400.2,414.2 L1402.8,414.0 L1405.2,413.7 L1407.8,413.5 L1410.2,413.2 L1412.8,413.0 L1415.2,412.7 L1417.8,412.4 L1420.2,412.2 L1422.8,411.9 L1425.2,411.7 L1427.8,411.5 L1430.2,411.2 L1432.8,411.0 L1435.2,410.7 L1437.8,410.5 L1440.2,410.3 L1442.8,410.0 L1445.2,409.8 L1447.8,409.6 L1450.2,409.4 L1452.8,409.2 L1455.2,408.9 L1457.8,408.7 L1460.2,408.5 L1462.8,408.3 L1465.2,408.1 L1467.8,407.9 L1470.2,407.7 L1472.8,407.5 L1475.2,407.4 L1477.8,407.2 L1480.2,407.0 L1482.8,406.8 L1485.2,406.7 L1487.8,406.5 L1490.2,406.4 L1492.8,406.2 L1495.2,406.1 L1497.8,406.0 L1500.2,405.9 L1502.8,405.8 L1505.2,405.8 L1507.8,405.8 L1510.2,405.8 L1512.8,405.8 L1515.2,405.9 L1517.8,406.0 L1520.2,406.2 L1522.8,406.4 L1525.2,406.6 L1527.8,406.9 L1530.2,407.3 L1532.8,407.7 L1534.0,407.9" stroke="#FF0000"/>
<path d="M229.0,781.0 L231.5,780.6 L234.0,780.1 L236.5,779.7 L239.0,779.4 L241.5,779.0 L244.0,778.6 L246.5,778.2 L249.0,777.8 L251.5,777.4 L254.0,777.1 L256.5,776.7 L259.0,776.3 L261.5,776.0 L264.0,775.6 L266.5,775.3 L269.0,774.9 L271.5,774.6 L274.0,774.3 L276.5,773.9 L279.0,773.6 L281.5,773.3 L284.0,772.9 L286.5,772.6 L289.0,772.3 L291.5,772.0 L294.0,771.7 L296.5,771.4 L299.0,771.1 L301.5,770.8 L304.0,770.5 L306.5,770.2 L309.0,769.9 L311.5,769.6 L314.0,769.3 L316.5,769.0 L319.0,768.7 L321.5,768.4 L324.0,768.1 L326.5,767.8 L329.0,767.6 L331.5,767.3 L334.0,767.0 L336.5,766.7 L339.0,766.5 L341.5,766.2 L344.0,765.9 L346.5,765.7 L349.0,765.4 L351.5,765.1 L354.0,764.9 L356.5,764.6 L359.0,764.3 L361.5,764.1 L364.0,763.8 L366.5,763.5 L369.0,763.3 L371.5,763.0 L374.0,762.8 L376.5,762.5 L379.0,762.2 L381.5,762.0 L384.0,761.7 L386.5,761.5 L389.0,761.2 L391.5,760.9 L394.0,760.7 L396.5,760.4 L399.0,760.2 L401.5,759.9 L404.0,759.6 L406.5,759.4 L409.0,759.1 L411.5,758.8 L414.0,758.6 L416.5,758.3 L419.0,758.0 L421.5,757.8 L424.0,757.5 L426.5,757.2 L429.0,757.0 L431.5,756.7 L434.0,756.4 L436.5,756.1 L439.0,755.9 L441.5,755.6 L444.0,755.3 L446.5,755.0 L449.0,754.7 L451.5,754.4 L454.0,754.2 L456.5,753.9 L459.0,753.6 L461.5,753.3 L464.0,753.0 L466.5,752.7 L469.0,752.4 L471.5,752.1 L474.0,751.8 L476.5,751.6 L479.0,751.3 L481.5,751.0 L484.0,750.7 L486.5,750.4 L489.0,750.1 L491.5,749.8 L494.0,749.5 L496.5,749.2 L499.0,748.9 L501.5,748.6 L504.0,748.3 L506.5,748.0 L509.0,747.7 L511.5,747.4 L514.0,747.2 L516.5,746.9 L519.0,746.6 L521.5,746.3 L524.0,746.0 L526.5,745.7 L529.0,745.4 L531.5,745.1 L534.0,744.8 L536.5,744.6 L539.0,744.3 L541.5,744.0 L544.0,743.7 L546.5,743.4 L549.0,743.2 L551.5,742.9 L554.0,742.6 L556.5,742.3 L559.0,742.0 L561.5,741.8 L564.0,741.5 L566.5,741.2 L569.0,741.0 L571.5,740.7 L574.0,740.4 L576.5,740.2 L579.0,739.9 L581.5,739.7 L584.0,739.4 L586.5,739.2 L589.0,738.9 L591.5,738.7 L594.0,738.4 L596.5,738.2 L599.0,737.9 L601.5,737.7 L604.0,737.4 L606.5,737.2 L609.0,736.9 L611.5,736.7 L614.0,736.4 L616.5,736.2 L619.0,735.9 L621.5,735.7 L624.0,735.4 L626.5,735.2 L629.0,734.9 L631.5,734.6 L634.0,734.3 L636.5,734.1 L639.0,733.8 L641.5,733.5 L644.0,733.2 L646.5,732.9 L649.0,732.6 L651.5,732.2 L654.0,731.9 L656.5,731.6 L659.0,731.2 L661.5,730.9 L664.0,730.5 L666.5,730.1 L669.0,729.8 L671.5,729.4 L674.0,729.0 L676.5,728.5 L679.0,728.1 L681.5,727.7 L684.0,727.2 L686.5,726.8 L689.0,726.3 L691.5,725.8 L694.0,725.3 L696.5,724.8 L699.0,724.2 L701.5,723.7 L704.0,723.1 L706.5,722.5 L709.0,721.9 L711.5,721.3 L714.0,720.7 L716.5,720.0 L719.0,719.4 L721.5,718.7 L724.0,718.0 L726.5,717.3 L729.0,716.5 L731.5,715.8 L734.0,715.0 L736.5,714.2 L739.0,713.3 L741.5,712.5 L744.0,711.6 L746.5,710.7 L749.0,709.8 L751.5,708.8 L754.0,707.8 L756.5,706.8 L759.0,705.7 L761.5,704.6 L764.0,703.5 L766.5,702.4 L769.0,701.2 L771.2,700.1 L773.5,699.0 L775.8,697.8 L778.0,696.6 L780.2,695.4 L782.5,694.1 L784.8,692.9 L787.0,691.6 L789.2,690.2 L791.5,688.8 L793.8,687.4 L796.0,686.0 L798.2,684.5 L800.5,682.9 L802.8,681.4 L805.0,679.8 L807.2,678.1 L809.5,676.5 L811.8,674.8 L814.0,673.1 L816.2,671.4 L818.5,669.8 L820.8,668.1 L823.0,666.5 L825.2,664.9 L827.5,663.4 L829.8,662.0 L832.0,660.6 L834.2,659.3 L836.5,658.1 L838.8,657.0 L841.2,656.0 L843.8,655.0 L846.2,654.3 L848.8,653.6 L851.2,653.1 L853.8,652.6 L856.2,652.3 L858.8,651.9 L861.2,651.6 L863.8,651.4 L866.2,651.1 L868.8,650.9 L871.2,650.6 L873.8,650.4 L876.2,650.2 L878.8,650.0 L881.2,649.7 L883.8,649.5 L886.2,649.3 L888.8,649.1 L891.2,648.9 L893.8,648.7 L896.2,648.4 L898.8,648.2 L901.2,648.0 L903.8,647.8 L906.2,647.6 L908.8,647.3 L911.2,647.1 L913.8,646.9 L916.2,646.6 L918.8,646.4 L921.2,646.2 L923.8,645.9 L926.2,645.7 L928.8,645.4 L931.2,645.2 L933.8,645.0 L936.2,644.7 L938.8,644.5 L941.2,644.2 L943.8,644.0 L946.2,643.7 L948.8,643.5 L951.2,643.2 L953.8,643.0 L956.2,642.7 L958.8,642.5 L961.2,642.2 L963.8,642.0 L966.2,641.7 L968.8,641.4 L971.2,641.2 L973.8,640.9 L976.2,640.7 L978.8,640.4 L981.2,640.1 L983.8,639.9 L986.2,639.6 L988.8,639.4 L991.2,639.1 L993.8,638.8 L996.2,638.6 L998.8,638.3 L1001.2,638.0 L1003.8,637.8 L1006.2,637.5 L1008.8,637.2 L1011.2,636.9 L1013.8,636.7 L1016.2,636.4 L1018.8,636.1 L1021.2,635.9 L1023.8,635.6 L1026.2,635.3 L1028.8,635.1 L1031.2,634.8 L1033.8,634.5 L1036.2,634.2 L1038.8,634.0 L1041.2,633.7 L1043.8,633.4 L1046.2,633.1 L1048.8,632.9 L1051.2,632.6 L1053.8,632.3 L1056.2,632.1 L1058.8,631.8 L1061.2,631.5 L1063.8,631.2 L1066.2,631.0 L1068.8,630.7 L1071.2,630.4 L1073.8,630.2 L1076.2,629.9 L1078.8,629.6 L1081.2,629.4 L1083.8,629.1 L1086.2,628.8 L1088.8,628.6 L1091.2,628.3 L1093.8,628.0 L1096.2,627.8 L1098.8,627.5 L1101.2,627.2 L1103.8,627.0 L1106.2,626.7 L1108.8,626.5 L1111.2,626.2 L1113.8,626.0 L1116.2,625.7 L1118.8,625.4 L1121.2,625.2 L1123.8,624.9 L1126.2,624.7 L1128.8,624.4 L1131.2,624.2 L1133.8,624.0 L1136.2,623.7 L1138.8,623.5 L1141.2,623.2 L1143.8,623.0 L1146.2,622.8 L1148.8,622.5 L1151.2,622.3 L1153.8,622.0 L1156.2,621.8 L1158.8,621.6 L1161.2,621.4 L1163.8,621.1 L1166.2,620.9 L1168.8,620.7 L1171.2,620.5 L1173.8,620.3 L1176.2,620.0 L1178.8,619.8 L1181.2,619.6 L1183.8,619.4 L1186.2,619.2 L1188.8,619.0 L1191.2,618.8 L1193.8,618.6 L1196.2,618.4 L1198.8,618.3 L1201.2,618.1 L1203.8,618.0 L1206.2,617.8 L1208.8,617.7 L1211.2,617.7 L1213.8,617.6 L1216.2,617.5 L1218.8,617.5 L1221.2,617.5 L1223.8,617.6 L1226.2,617.7 L1228.8,617.8 L1231.2,617.9 L1233.8,618.1 L1236.2,618.3 L1238.8,618.6 L1241.2,618.9 L1243.8,619.3 L1246.2,619.7 L1248.8,620.1 L1251.2,620.6 L1253.2,621.0 L1260.0,623.3 L1280.1,632.1 L1297.1,646.1 L1314.2,670.4 L1323.3,686.9 L1331.9,707.6 L1339.8,734.4 L1347.7,765.1 L1351.6,785.2 L1355.4,804.5 L1359.1,826.6 L1362.6,848.6 L1366.0,867.9 L1369.7,890.0 L1373.0,916.0 L1376.2,941.9 L1379.5,967.9 L1382.7,993.9 L1386.0,1019.9 L1387.9,1044.5 L1391.5,1075.0" stroke="#FF00FF"/>
<path d="M1463.5,1075.0 L1466.4,1045.5 L1468.5,1025.5 L1471.1,1004.4 L1474.1,983.3 L1476.9,962.2 L1480.1,941.1 L1483.5,920.0 L1486.8,903.6 L1490.2,884.3 L1493.6,863.9 L1496.5,846.8 L1499.9,829.8 L1503.3,813.5 L1507.3,798.3 L1512.0,782.5 L1517.3,764.6 L1521.8,753.0 L1527.1,739.2 L1531.6,731.6 L1536.0,725.5" stroke="#FF00FF"/>
</g>
<g font-size="60" fill="#000">
<text transform="translate(229.0,1125.5) scale(1,1.045)" text-anchor="middle">-80</text>
<text transform="translate(489.4,1125.5) scale(1,1.045)" text-anchor="middle">-70</text>
<text transform="translate(749.8,1125.5) scale(1,1.045)" text-anchor="middle">-60</text>
<text transform="translate(1010.3,1125.5) scale(1,1.045)" text-anchor="middle">-50</text>
<text transform="translate(1270.7,1125.5) scale(1,1.045)" text-anchor="middle">-40</text>
<text transform="translate(1531.1,1125.5) scale(1,1.045)" text-anchor="middle">-30</text>
<text transform="translate(198,1064.2) scale(1,1.045)" text-anchor="end">20</text>
<text transform="translate(198,683.5) scale(1,1.045)" text-anchor="end">25</text>
<text transform="translate(198,302.8) scale(1,1.045)" text-anchor="end">30</text>
</g>
<text transform="translate(627,1205) scale(1,1.045)" font-size="59.7" fill="#000">Temperature <tspan x="356.8">(</tspan><tspan x="377.4" y="9.8" font-family="'Noto Serif CJK SC',serif" font-size="60.5">°</tspan><tspan x="399" y="0">C</tspan><tspan x="445.35">)</tspan></text>
<text transform="translate(66,931.8) rotate(-90) scale(1,1.045)" font-size="60" fill="#000">Heat Flow Endo Up (mW)</text>
<g font-size="75">
<text transform="translate(265.6,216.9) scale(1,1.056)" fill="#008000">PBS</text>
<text transform="translate(262.75,372.9) scale(1,1.056)" fill="#FF8000">PBS<tspan font-size="45" dy="28.3">70</tspan><tspan dy="-28.3">CL</tspan><tspan font-size="45" dy="28.3">30</tspan></text>
<text transform="translate(262.75,519.9) scale(1,1.056)" fill="#FF0000">PBS<tspan font-size="45" dy="28.3">50</tspan><tspan dy="-28.3">CL</tspan><tspan font-size="45" dy="28.3">50</tspan></text>
<text transform="translate(264.65,694.9) scale(1,1.056)" fill="#FF80FF">PBS<tspan font-size="45" dy="28.3">30</tspan><tspan dy="-28.3">CL</tspan><tspan font-size="45" dy="28.3">70</tspan></text>
<text transform="translate(271.6,871.9) scale(1,1.056)" fill="#0000FF">PCL</text>
</g>
</svg>
</body></html>
